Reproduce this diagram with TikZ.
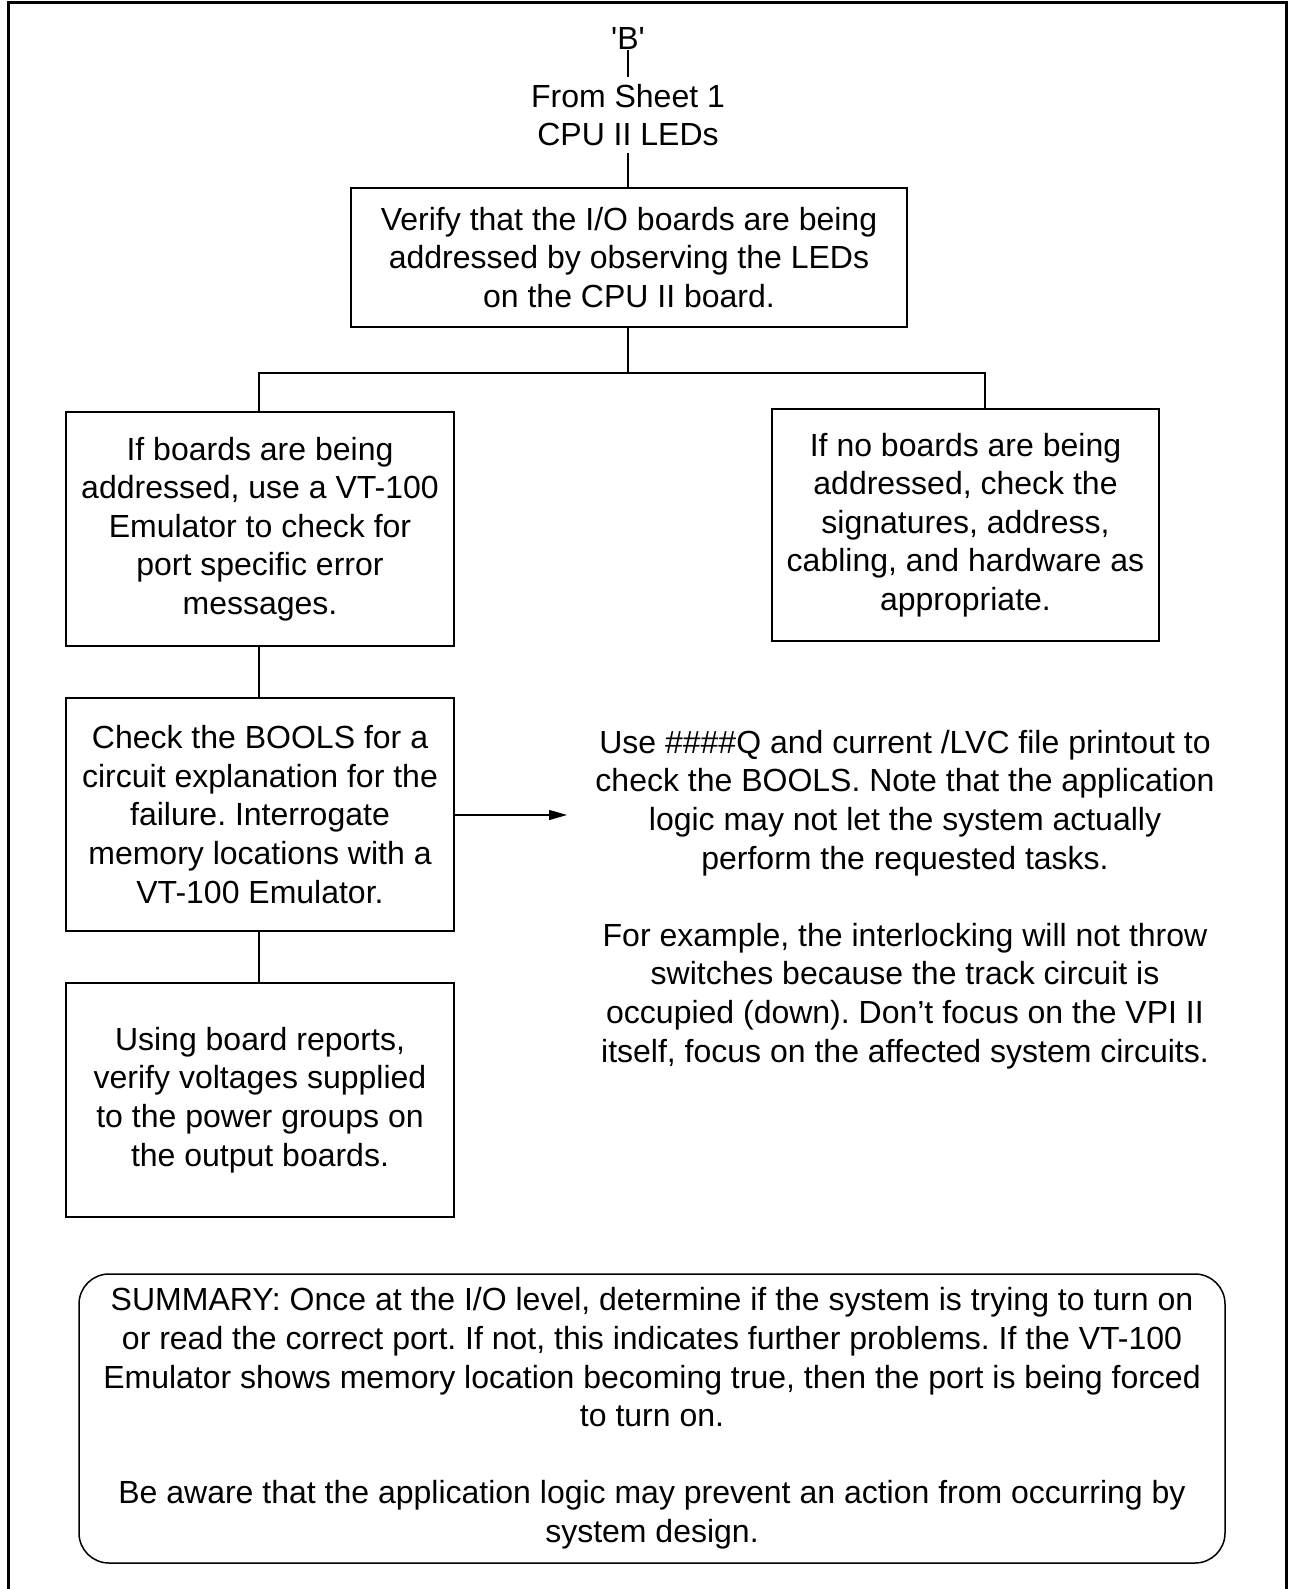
\documentclass[tikz,border=0pt]{standalone}
\usepackage{fontspec}
\setmainfont{Liberation Sans}
\usetikzlibrary{arrows.meta}
\newcommand{\sq}{\XeTeXglyph\XeTeXcharglyph"0027\relax}
\begin{document}
\frenchspacing
\begin{tikzpicture}[x=1pt,y=-1pt,
  txt/.style={font=\frenchspacing\fontsize{32}{38.6}\selectfont, align=center},
  box/.style={txt, draw, line width=1.5pt, inner sep=0pt},
  conn/.style={line width=1.3pt},
]
\useasboundingbox (0,0) rectangle (1288,1589);
% outer frame (open at bottom)
\draw[line width=3pt] (8,1589) -- (8,3) -- (1286,3) -- (1286,1589);

\node[txt, anchor=base, inner sep=0pt] (B) at (628,50) {\sq B\sq};
\node[txt, inner sep=6.5pt] (from) at (628,115) {From Sheet 1\\CPU II LEDs};

\node[box, minimum width=556pt, minimum height=139pt] (b1) at (629,257.5)
  {Verify that the I/O boards are being\\addressed by observing the LEDs\\on the CPU II board.};
\node[box, minimum width=388pt, minimum height=234pt] (b2) at (260,529)
  {If boards are being\\addressed, use a VT-100\\Emulator to check for\\port specific error\\messages.};
\node[box, minimum width=387pt, minimum height=232pt] (b3) at (965.5,525)
  {If no boards are being\\addressed, check the\\signatures, address,\\cabling, and hardware as\\appropriate.};
\node[box, minimum width=388pt, minimum height=233pt] (b4) at (260,814.5)
  {Check the BOOLS for a\\circuit explanation for the\\failure. Interrogate\\memory locations with a\\VT-100 Emulator.};
\node[box, minimum width=388pt, minimum height=234pt] (b5) at (260,1100)
  {Using board reports,\\verify voltages supplied\\to the power groups on\\the output boards.};
\node[txt] (note) at (905,899.5)
  {Use \#\#\#\#Q and current /LVC file printout to\\check the BOOLS. Note that the application\\logic may not let the system actually\\perform the requested tasks.\\[38.6pt]For example, the interlocking will not throw\\switches because the track circuit is\\occupied (down). Don’t focus on the VPI II\\itself, focus on the affected system circuits.};
\node[box, rounded corners=30pt, minimum width=1146pt, minimum height=289pt] (sum) at (652,1418.5)
  {SUMMARY: Once at the I/O level, determine if the system is trying to turn on\\or read the correct port. If not, this indicates further problems. If the VT-100\\Emulator shows memory location becoming true, then the port is being forced\\to turn on.\\[38.6pt]Be aware that the application logic may prevent an action from occurring by\\system design.};

\coordinate (jl) at (259,373);
\coordinate (jm) at (628,373);
\coordinate (jr) at (985,373);
\coordinate (aend) at (567,815);

\draw[conn] (B.south) -- (from.north);
\draw[conn] (from.south) -- (from.south |- b1.north);
\draw[conn] (b1.south -| jm) -- (jm);
\draw[conn] (b2.north -| jl) -- (jl) -- (jr) -- (jr |- b3.north);
\draw[conn] (b2.south -| jl) -- (jl |- b4.north);
\draw[conn] (b4.south -| jl) -- (jl |- b5.north);
\draw[conn, -{Triangle[length=18pt,width=10pt]}] (b4.east |- aend) -- (aend);
\end{tikzpicture}
\end{document}
